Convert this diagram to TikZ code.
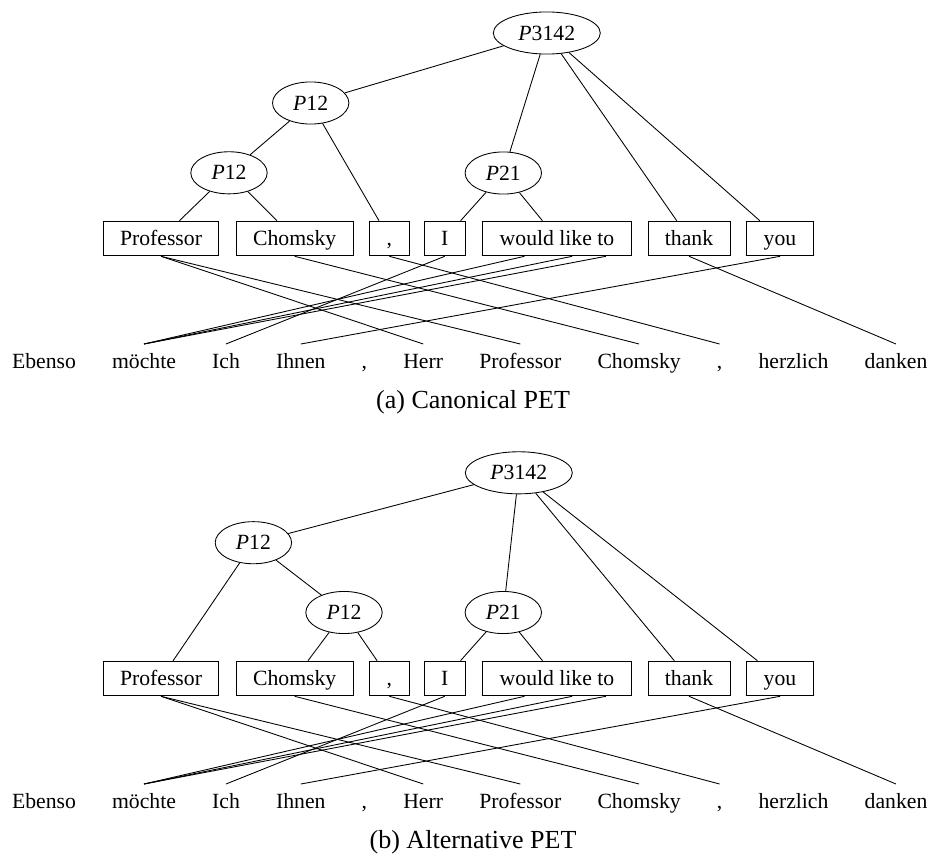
\documentclass[tikz,border=0pt]{standalone}
\usepackage{fontspec}
\setmainfont{Liberation Serif}
\usetikzlibrary{shapes.geometric}

% Source phrase boxes, target words and word alignments of one sentence pair.
% #1 is the prefix of the node names.
\newcommand{\bitext}[1]{%
  \node[srcbox] (#1-prof)  at (161,238.5)   {Professor};
  \node[srcbox] (#1-chom)  at (294.7,238.5) {Chomsky};
  \node[srcbox] (#1-comma) at (389.3,238.5) {,};
  \node[srcbox] (#1-i)     at (444.7,238.5) {I};
  \node[srcbox] (#1-wlt)   at (557,238.5)   {would like to};
  \node[srcbox] (#1-thank) at (689,238.5)   {thank};
  \node[srcbox] (#1-you)   at (780,238.5)   {you};
  % the three words inside the "would like to" box
  \coordinate (#1-would) at ([xshift=-15pt]#1-wlt.south);
  \coordinate (#1-like)  at ([xshift=7pt]#1-wlt.south);
  \coordinate (#1-to)    at ([xshift=22.5pt]#1-wlt.south);
  % German sentence
  \node[tgtword] (#1-ebenso)    at (44,361.8)    {Ebenso};
  \node[tgtword] (#1-moechte)   at (144,361.8)   {möchte};
  \node[tgtword] (#1-ich)       at (226,361.8)   {Ich};
  \node[tgtword] (#1-ihnen)     at (300.8,361.8) {Ihnen};
  \node[tgtword] (#1-commaA)    at (364.4,361.8) {,};
  \node[tgtword] (#1-herr)      at (423.2,361.8) {Herr};
  \node[tgtword] (#1-professor) at (520.3,361.8) {Professor};
  \node[tgtword] (#1-chomsky)   at (639.1,361.8) {Chomsky};
  \node[tgtword] (#1-commaB)    at (719.6,361.8) {,};
  \node[tgtword] (#1-herzlich)  at (793.5,361.8) {herzlich};
  \node[tgtword] (#1-danken)    at (896,361.8)   {danken};
  % word alignments
  \draw[link] (#1-prof.south)  -- (#1-herr.north);
  \draw[link] (#1-prof.south)  -- (#1-professor.north);
  \draw[link] (#1-chom.south)  -- (#1-chomsky.north);
  \draw[link] (#1-comma.south) -- (#1-commaB.north);
  \draw[link] (#1-i.south)     -- (#1-ich.north);
  \draw[link] (#1-would)       -- (#1-moechte.north);
  \draw[link] (#1-like)        -- (#1-moechte.north);
  \draw[link] (#1-to)          -- (#1-moechte.north);
  \draw[link] (#1-thank.south) -- (#1-danken.north);
  \draw[link] (#1-you.south)   -- (#1-ihnen.north);
}

\begin{document}
\begin{tikzpicture}[x=0.4608pt,y=-0.4608pt,
  perm/.style={ellipse,draw,inner sep=0pt,minimum width=35.2pt,minimum height=19.4pt},
  rootperm/.style={perm,minimum width=49.3pt},
  srcbox/.style={draw,rectangle,inner xsep=7.8pt,inner ysep=3pt,text height=8pt,text depth=2pt},
  tgtword/.style={inner sep=3pt,text height=8pt,text depth=2pt},
  caption/.style={anchor=base,font=\fontsize{12}{14.4}\selectfont},
  link/.style={line width=0.4pt}]
\useasboundingbox (0,0) rectangle (930,857);

% (a) canonical tree
\bitext{a}
\node[rootperm] (a-root) at (546.8,33)    {\textit{P}3142};
\node[perm]     (a-p12u) at (310.7,103)   {\textit{P}12};
\node[perm]     (a-p12l) at (229,172.8)   {\textit{P}12};
\node[perm]     (a-p21)  at (503.3,173)   {\textit{P}21};
\draw[link] (a-root) -- (a-p12u);
\draw[link] (a-root) -- (a-p21);
\draw[link] (a-root) -- (a-thank);
\draw[link] (a-root) -- (a-you);
\draw[link] (a-p12u) -- (a-p12l);
\draw[link] (a-p12u) -- (a-comma);
\draw[link] (a-p12l) -- (a-prof);
\draw[link] (a-p12l) -- (a-chom);
\draw[link] (a-p21)  -- (a-i);
\draw[link] (a-p21)  -- (a-wlt);
\node[caption] (a-caption) at (473,408) {(a) Canonical PET};

% (b) alternative tree
\begin{scope}[shift={(0,440)}]
\bitext{b}
\node[rootperm] (b-root) at (518.8,32.8)  {\textit{P}3142};
\node[perm]     (b-p12u) at (253.4,102.7) {\textit{P}12};
\node[perm]     (b-p12l) at (344,172.5)   {\textit{P}12};
\node[perm]     (b-p21)  at (503.3,172.5) {\textit{P}21};
\draw[link] (b-root) -- (b-p12u);
\draw[link] (b-root) -- (b-p21);
\draw[link] (b-root) -- (b-thank);
\draw[link] (b-root) -- (b-you);
\draw[link] (b-p12u) -- (b-prof);
\draw[link] (b-p12u) -- (b-p12l);
\draw[link] (b-p12l) -- (b-chom);
\draw[link] (b-p12l) -- (b-comma);
\draw[link] (b-p21)  -- (b-i);
\draw[link] (b-p21)  -- (b-wlt);
\node[caption] (b-caption) at (473,408) {(b) Alternative PET};
\end{scope}
\end{tikzpicture}
\end{document}
